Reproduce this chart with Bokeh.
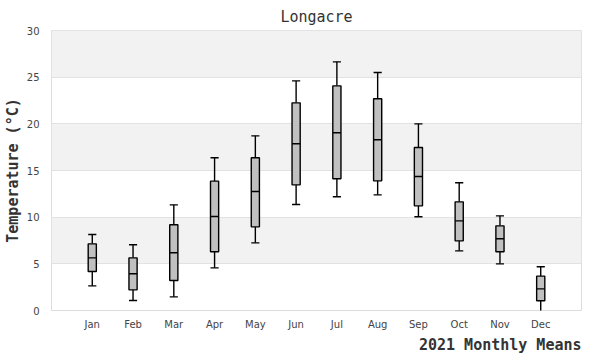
from bokeh.plotting import figure
from bokeh.models import FixedTicker, Range1d, Title, ColumnDataSource
from bokeh.embed import file_html
from bokeh.resources import INLINE

months = ["Jan", "Feb", "Mar", "Apr", "May", "Jun", "Jul", "Aug", "Sep", "Oct", "Nov", "Dec"]
month_pos = [1, 2, 3, 4, 5, 6, 7, 8, 9, 10, 11, 12]
low = [2.64, 1.07, 1.46, 4.57, 7.25, 11.36, 12.18, 12.39, 10.04, 6.39, 5.0, -0.25]
q1 = [4.18, 2.21, 3.21, 6.29, 8.96, 13.46, 14.11, 13.89, 11.21, 7.46, 6.29, 1.04]
median = [5.64, 3.93, 6.18, 10.07, 12.75, 17.86, 19.04, 18.29, 14.36, 9.6, 7.68, 2.32]
q3 = [7.14, 5.64, 9.18, 13.86, 16.36, 22.25, 24.07, 22.68, 17.46, 11.64, 9.07, 3.68]
high = [8.14, 7.04, 11.32, 16.36, 18.71, 24.6, 26.64, 25.5, 20.0, 13.68, 10.14, 4.68]
y_ticks = [0, 5, 10, 15, 20, 25, 30]

bw = 0.2
src = ColumnDataSource(dict(
    x=month_pos, low=low, q1=q1, med=median, q3=q3, high=high,
    x0=[m - bw / 2 for m in month_pos], x1=[m + bw / 2 for m in month_pos],
))

p = figure(frame_width=530, frame_height=280, output_backend="svg", toolbar_location=None,
           x_range=Range1d(0, 13), y_range=Range1d(0, 30),
           min_border_left=42, min_border_right=12, min_border_top=22, min_border_bottom=0)

p.title.text = "Longacre"
p.title.align = "center"
p.title.offset = -14
p.title.standoff = 10
p.title.text_font = "DejaVu Sans Mono"
p.title.text_font_size = "15px"
p.title.text_font_style = "normal"
p.title.text_color = "#333333"

p.outline_line_color = "#dddddd"
p.background_fill_color = "white"
p.border_fill_color = "white"

p.xgrid.grid_line_color = None
p.ygrid.grid_line_color = "#e2e2e2"
p.ygrid.band_fill_color = "#f2f2f2"
p.ygrid.band_fill_alpha = 1.0

p.xaxis.ticker = FixedTicker(ticks=month_pos)
p.xaxis.major_label_overrides = {m: n for m, n in zip(month_pos, months)}
p.yaxis.ticker = FixedTicker(ticks=y_ticks)
for ax in (p.xaxis, p.yaxis):
    ax.axis_line_color = None
    ax.major_tick_line_color = None
    ax.minor_tick_line_color = None
    ax.major_tick_out = 0
    ax.major_tick_in = 0
    ax.minor_tick_out = 0
    ax.major_label_text_font = "DejaVu Sans"
    ax.major_label_text_font_size = "10px"
    ax.major_label_text_color = "#444444"
p.xaxis.major_label_standoff = 8
p.yaxis.major_label_standoff = 12

p.yaxis.axis_label = "Temperature (°C)"
p.yaxis.axis_label_text_font = "DejaVu Sans Mono"
p.yaxis.axis_label_text_font_size = "15px"
p.yaxis.axis_label_text_font_style = "bold"
p.yaxis.axis_label_text_color = "#333333"
p.yaxis.axis_label_standoff = 2

p.add_layout(Title(text="2021 Monthly Means", align="right", text_font="DejaVu Sans Mono",
                   text_font_size="15px", text_font_style="bold", text_color="#333333",
                   standoff=2), "below")

lw = 1.4
p.segment(x0="x", y0="low", x1="x", y1="q1", source=src, line_color="black", line_width=lw)
p.segment(x0="x", y0="q3", x1="x", y1="high", source=src, line_color="black", line_width=lw)
p.segment(x0="x0", y0="low", x1="x1", y1="low", source=src, line_color="black", line_width=lw)
p.segment(x0="x0", y0="high", x1="x1", y1="high", source=src, line_color="black", line_width=lw)
p.quad(left="x0", right="x1", bottom="q1", top="q3", source=src,
       fill_color="#c0c0c0", line_color="black", line_width=lw)
p.segment(x0="x0", y0="med", x1="x1", y1="med", source=src, line_color="black", line_width=lw)

open("out.html", "w").write(file_html(p, INLINE))
